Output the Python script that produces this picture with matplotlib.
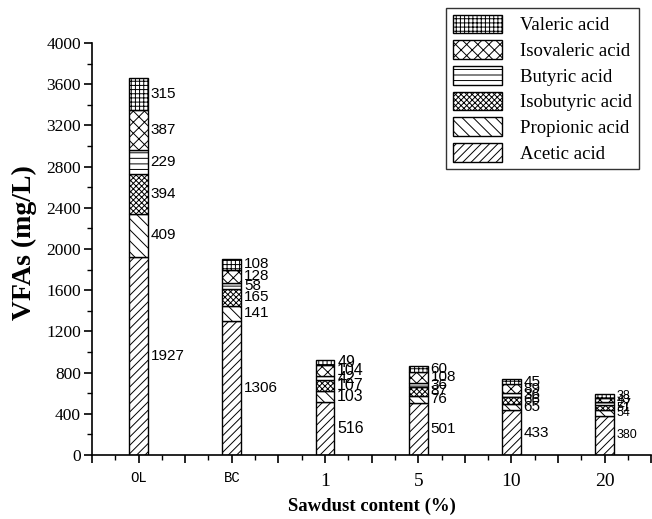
import matplotlib
matplotlib.use("Agg")
import matplotlib.pyplot as plt
import numpy as np
from matplotlib.ticker import MultipleLocator

categories = ["OL", "BC", "1", "5", "10", "20"]
acetic = [1927, 1306, 516, 501, 433, 380]
propionic = [409, 141, 103, 76, 65, 54]
isobutyric = [394, 165, 107, 87, 66, 51]
butyric = [229, 58, 42, 36, 36, 27]
isovaleric = [387, 128, 104, 108, 89, 43]
valeric = [315, 108, 49, 60, 45, 38]

series = [
    ("Acetic acid", acetic, "////"),
    ("Propionic acid", propionic, "\\\\\\"),
    ("Isobutyric acid", isobutyric, "xxxxxx"),
    ("Butyric acid", butyric, "---"),
    ("Isovaleric acid", isovaleric, "xxx"),
    ("Valeric acid", valeric, "++++"),
]
label_sizes = [11, 11, 11.5, 11, 11, 9]

plt.rcParams["hatch.linewidth"] = 0.7
fig = plt.figure(figsize=(6.52, 5.19), dpi=100)
ax = fig.add_axes([0.141, 0.1233, 0.858, 0.7937])

x = np.arange(len(categories))
width = 0.2
bottom = np.zeros(len(categories))
handles = []
for name, vals, hatch in series:
    vals = np.array(vals, dtype=float)
    b = ax.bar(x, vals, width, bottom=bottom, color="white", edgecolor="black",
               hatch=hatch, linewidth=1.0, label=name)
    handles.append(b)
    for i in range(len(categories)):
        ax.text(x[i] + width / 2 + 0.03, bottom[i] + vals[i] / 2, f"{int(vals[i])}",
                ha="left", va="center", fontsize=label_sizes[i],
                family="Liberation Sans")
    bottom += vals

ax.set_xlim(-0.5, 5.5)
ax.set_ylim(0, 4000)
ax.spines["top"].set_visible(False)
ax.spines["right"].set_visible(False)
ax.yaxis.set_major_locator(MultipleLocator(400))
ax.yaxis.set_minor_locator(MultipleLocator(200))
ax.xaxis.set_major_locator(MultipleLocator(0.5))
ax.xaxis.set_minor_locator(MultipleLocator(0.25))
ax.tick_params(axis="both", which="major", direction="out", length=6, width=1.2)
ax.tick_params(axis="both", which="minor", direction="out", length=3.5, width=1.0)
ax.set_xticklabels([])
for s in ["left", "bottom"]:
    ax.spines[s].set_linewidth(1.2)

for lab in ax.get_yticklabels():
    lab.set_fontfamily("Liberation Serif")
    lab.set_fontsize(12.5)
ax.tick_params(axis="y", pad=2)

for i, c in enumerate(categories):
    if c in ("OL", "BC"):
        ax.text(x[i], -0.055, c, transform=ax.get_xaxis_transform(), ha="center",
                va="center", fontsize=10, family="Liberation Mono")
    else:
        ax.text(x[i], -0.065, c, transform=ax.get_xaxis_transform(), ha="center",
                va="center", fontsize=14, family="Liberation Serif")

ax.set_ylabel("VFAs (mg/L)", fontsize=20, fontweight="bold", family="Liberation Serif")
ax.yaxis.set_label_coords(-0.099, 0.515)
ax.set_xlabel("Sawdust content (%)", fontsize=13.5, fontweight="bold",
              family="Liberation Serif", labelpad=21)

leg = ax.legend(handles[::-1], [s[0] for s in series][::-1], loc="upper right",
                bbox_to_anchor=(0.978, 1.085), frameon=True, fancybox=False,
                edgecolor="black", prop={"family": "Liberation Serif", "size": 13.5},
                handlelength=2.6, handleheight=1.15, labelspacing=0.32,
                borderpad=0.35, handletextpad=1.0, borderaxespad=0)
leg.get_frame().set_linewidth(1.0)

fig.savefig("out.png", dpi=100)
